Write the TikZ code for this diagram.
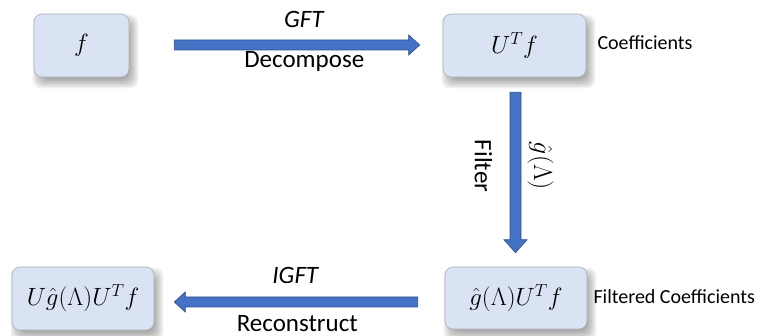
\RequirePackage{fix-cm}
\documentclass[tikz,border=0pt]{standalone}
\usepackage{fontspec}
\setmainfont{Carlito}
\usetikzlibrary{calc}

\definecolor{boxfill}{HTML}{DAE3F3}
\definecolor{boxline}{HTML}{A9AEB6}
\definecolor{arrowfill}{HTML}{4472C4}
\definecolor{arrowline}{HTML}{2F528F}

\pgfdeclarelayer{background}
\pgfsetlayers{background,main}

\tikzset{
  mathbox/.style={draw=boxline, line width=0.6pt, fill=boxfill,
    rounded corners=8pt, inner sep=0pt,
    font=\fontsize{25}{29}\selectfont},
  fatarrow/.style={fill=arrowfill, draw=arrowline, line width=0.7pt,
    line join=miter},
  steplabel/.style={font=\fontsize{25}{29}\selectfont, inner sep=0pt,
    anchor=base},
  sidelabel/.style={font=\fontsize{20}{24}\selectfont, inner sep=0pt,
    anchor=west},
  softshadow/.style={fill=black, opacity=0.055, rounded corners=8pt}
}

% soft drop shadow below and to the right of a box
\newcommand\boxshadow[1]{%
  \foreach \r in {-4,-2.5,-1,0.5,2,3.5,5}{%
    \fill[softshadow] ($(#1.south west)+(4-\r,6+\r)$) rectangle
                      ($(#1.north east)+(4+\r,6-\r)$);}}

\begin{document}
\begin{tikzpicture}[x=1pt, y=-1pt]
  \useasboundingbox (0,0) rectangle (764,336);

  % the four stages
  \node[mathbox, minimum width=95pt, minimum height=63pt]
    (sig) at (81.5,45.5) {$f$};
  \node[mathbox, minimum width=143pt, minimum height=63pt]
    (coef) at (514.5,45.5) {$U^T f$};
  \node[mathbox, minimum width=142pt, minimum height=62pt]
    (filt) at (516,298) {$\hat{g}(\Lambda)U^T f$};
  \node[mathbox, minimum width=142pt, minimum height=63pt]
    (rec) at (83,298.5) {$U\hat{g}(\Lambda)U^T f$};

  \begin{pgfonlayer}{background}
    \boxshadow{sig}
    \boxshadow{coef}
    \boxshadow{filt}
    \boxshadow{rec}
  \end{pgfonlayer}

  % side labels
  \node[sidelabel] (lcoef) at ($(coef.east)+(11,-3)$) {Coefficients};
  \node[sidelabel] (lfilt) at ($(filt.east)+(6,-1)$) {Filtered Coefficients};

  % GFT: sig -> coef
  \coordinate (g1) at ($(sig.east)+(45,-0.5)$);
  \coordinate (g2) at ($(coef.west)+(-23,-0.5)$);
  \draw[fatarrow] ($(g1)+(0,-5)$) -- ($(g2)+(-11,-5)$) -- ($(g2)+(-11,-10)$)
    -- (g2) -- ($(g2)+(-11,10)$) -- ($(g2)+(-11,5)$) -- ($(g1)+(0,5)$) -- cycle;
  \node[steplabel, font=\fontsize{25}{29}\selectfont\itshape]
    (tgft) at ($(g1)+(129.5,-17)$) {GFT};
  \node[steplabel] (tdec) at ($(g1)+(130,23)$) {Decompose};

  % filter: coef -> filt
  \coordinate (f1) at ($(coef.south)+(1,15)$);
  \coordinate (f2) at ($(filt.north)+(-0.5,-14)$);
  \draw[fatarrow] ($(f1)+(-5.5,0)$) -- ($(f2)+(-5.5,-13)$) -- ($(f2)+(-11.5,-13)$)
    -- (f2) -- ($(f2)+(11.5,-13)$) -- ($(f2)+(5.5,-13)$) -- ($(f1)+(5.5,0)$) -- cycle;
  \node[font=\fontsize{25}{29}\selectfont, inner sep=0pt, rotate=-90]
    (tfil) at ($(f1)!0.46!(f2)+(-32,0)$) {Filter};
  \node[inner sep=0pt, rotate=-90, font=\fontsize{26}{30}\selectfont]
    (tgh) at ($(f1)!0.46!(f2)+(25,0)$) {$\hat{g}(\Lambda)$};

  % IGFT: filt -> rec
  \coordinate (i1) at ($(filt.west)+(-27,4)$);
  \coordinate (i2) at ($(rec.east)+(20,3.5)$);
  \draw[fatarrow] ($(i1)+(0,-5)$) -- ($(i2)+(11,-5)$) -- ($(i2)+(11,-10)$)
    -- (i2) -- ($(i2)+(11,10)$) -- ($(i2)+(11,5)$) -- ($(i1)+(0,5)$) -- cycle;
  \node[steplabel, font=\fontsize{25}{29}\selectfont\itshape]
    (tigft) at ($(i2)+(121,-18)$) {IGFT};
  \node[steplabel] (trec) at ($(i2)+(123,30)$) {Reconstruct};
\end{tikzpicture}
\end{document}
